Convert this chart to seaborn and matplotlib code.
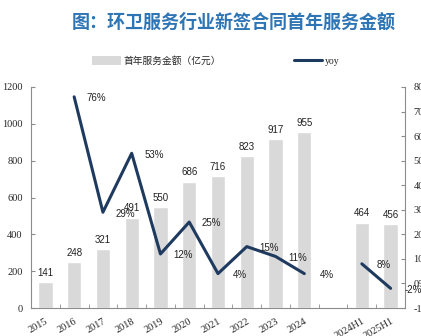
import numpy as np
import pandas as pd
import matplotlib
matplotlib.use("Agg")
import matplotlib.pyplot as plt
import seaborn as sns
from matplotlib.patches import Patch
from matplotlib.lines import Line2D
from matplotlib.ticker import FuncFormatter, MultipleLocator

sns.set_style("ticks")
plt.rcParams['font.family'] = ['Liberation Serif', 'Noto Sans CJK SC', 'DejaVu Sans']

# ---- data ----
categories = ["2015", "2016", "2017", "2018", "2019", "2020", "2021", "2022", "2023", "2024",
              " ", "2024H1", "2025H1"]
bar_cats = ["2015", "2016", "2017", "2018", "2019", "2020", "2021", "2022", "2023", "2024",
            "2024H1", "2025H1"]
amount = [141, 248, 321, 491, 550, 686, 716, 823, 917, 955, 464, 456]
yoy_annual_cats = ["2016", "2017", "2018", "2019", "2020", "2021", "2022", "2023", "2024"]
yoy_annual = [76, 29, 53, 12, 25, 4, 15, 11, 4]
yoy_half_cats = ["2024H1", "2025H1"]
yoy_half = [8, -2]

title = "图：环卫服务行业新签合同首年服务金额"
bar_label = "首年服务金额（亿元）"
line_label = "yoy"

BAR_C = "#d9d9d9"
LINE_C = "#1f3a5f"
SPINE_C = "#8c8c8c"

fig = plt.figure(figsize=(4.21, 3.36), dpi=100)
ax = fig.add_axes([31/421, 1-308/336, (405-31)/421, (308-87)/336])

df = pd.DataFrame({"cat": bar_cats, "amount": amount})
sns.barplot(data=df, x="cat", y="amount", order=categories, color=BAR_C,
            width=0.5, ax=ax, saturation=1)
ax.set_xlim(-0.5, len(categories) - 0.5)
ax.set_ylim(0, 1200)
ax.yaxis.set_major_locator(MultipleLocator(200))
ax.set_xlabel("")
ax.set_ylabel("")

pos = {c: i for i, c in enumerate(categories)}
for c, v in zip(bar_cats, amount):
    ax.annotate(f"{v}", (pos[c], v), xytext=(0, 3), textcoords="offset points",
                ha="center", va="bottom", fontsize=7, family="Liberation Sans",
                color="#222222")

# x ticks at category boundaries, labels at centers
ax.set_xticks(np.arange(len(categories)))
ax.set_xticklabels(categories, rotation=30, ha="right", rotation_mode="anchor",
                   fontsize=7.5, family="Liberation Serif")
ax.tick_params(axis="x", length=0, pad=6)
ax.set_xticks(np.arange(len(categories) + 1) - 0.5, minor=True)
ax.tick_params(axis="x", which="minor", direction="in", length=3, color=SPINE_C)
ax.tick_params(axis="y", direction="in", length=3, color=SPINE_C, labelsize=7.5, pad=6)
for lab in ax.get_yticklabels():
    lab.set_family("Liberation Serif")

ax2 = ax.twinx()
xa = [pos[c] for c in yoy_annual_cats]
xh = [pos[c] for c in yoy_half_cats]
sns.lineplot(x=xa, y=yoy_annual, ax=ax2, color=LINE_C, linewidth=2.2, sort=False)
sns.lineplot(x=xh, y=yoy_half, ax=ax2, color=LINE_C, linewidth=2.2, sort=False)
ax2.set_ylim(-10, 80)
ax2.yaxis.set_major_locator(MultipleLocator(10))
ax2.yaxis.set_major_formatter(FuncFormatter(lambda v, p: f"{v:.0f}%"))
ax2.tick_params(axis="y", direction="in", length=3, color=SPINE_C, labelsize=7.5, pad=6)
for lab in ax2.get_yticklabels():
    lab.set_family("Liberation Serif")
ax2.set_xlim(-0.5, len(categories) - 0.5)

for c, v in list(zip(yoy_annual_cats, yoy_annual)) + list(zip(yoy_half_cats, yoy_half)):
    ax2.annotate(f"{v}%", (pos[c], v), xytext=(16, -1), textcoords="offset points",
                 ha="center", va="center", fontsize=7, family="Liberation Sans",
                 color="#222222", annotation_clip=False)

for a in (ax, ax2):
    a.spines["top"].set_visible(False)
    for s in ("left", "right", "bottom"):
        a.spines[s].set_color(SPINE_C)
        a.spines[s].set_linewidth(0.8)
ax.spines["right"].set_visible(False)
ax2.spines["left"].set_visible(False)
ax2.spines["bottom"].set_visible(False)

fig.text(234/421, 1-22/336, title, ha="center", va="center", fontsize=13,
         fontweight="bold", color="#2e75b6", family="Noto Sans CJK SC")

handles = [Patch(facecolor=BAR_C, edgecolor="none"),
           Line2D([0], [0], color=LINE_C, linewidth=2.2)]
fig.legend(handles, [bar_label, line_label], loc="center", ncol=2,
           bbox_to_anchor=(216/421, 1-61/336), frameon=False,
           prop={"family": ["Liberation Serif", "Noto Sans CJK SC"], "size": 7},
           handlelength=2.9, handletextpad=0.3, columnspacing=7.5, handleheight=0.9)

fig.savefig("out.png", dpi=100)
